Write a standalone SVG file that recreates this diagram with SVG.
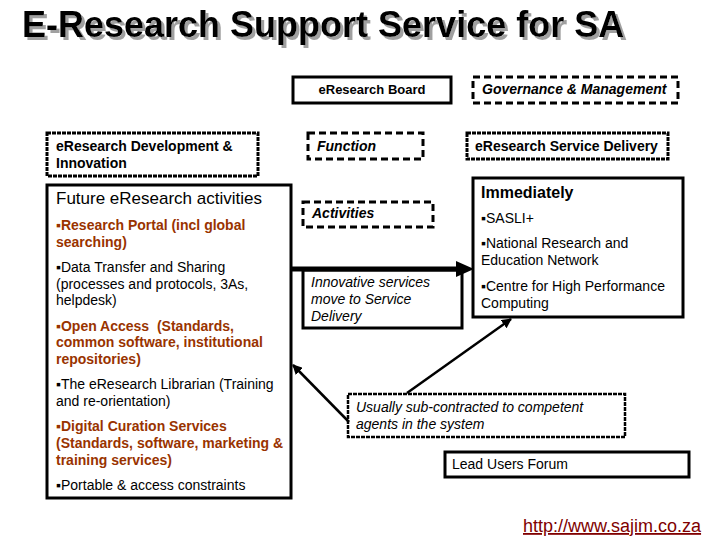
<svg xmlns="http://www.w3.org/2000/svg" width="720" height="540" viewBox="0 0 720 540">
<style>
text{font-family:"Liberation Sans",Arial,sans-serif;font-size:14px;fill:#000}
.box{fill:#fff;stroke:#000;stroke-width:3}
.dash{fill:#fff;stroke:#000;stroke-width:3;stroke-dasharray:7 4}
.dot{fill:#fff;stroke:#000;stroke-width:3;stroke-dasharray:4 1}
.b{font-weight:bold}
.i{font-style:italic}
.br{font-weight:bold;fill:#993300}
.con{stroke:#000;stroke-width:2.5;fill:none}
</style>
<defs>
<marker id="ah" viewBox="0 0 10 10" refX="9" refY="5" markerWidth="4" markerHeight="4" orient="auto" markerUnits="strokeWidth">
<path d="M0,0 L10,5 L0,10 z" fill="#000"/>
</marker>
<filter id="shadow" x="-5%" y="-20%" width="110%" height="150%">
<feFlood flood-color="#a0a0a0" result="c"/>
<feComposite in="c" in2="SourceAlpha" operator="in" result="s"/>
<feOffset in="s" dx="2.5" dy="2.5" result="o"/>
<feMerge><feMergeNode in="o"/><feMergeNode in="SourceGraphic"/></feMerge>
</filter>
</defs>
<rect width="720" height="540" fill="#fff"/>
<g id="title">
<text x="22" y="37" filter="url(#shadow)" style="font-size:36px;font-weight:bold">E-Research Support Service for SA</text>
</g>
<g id="board"><rect class="box" x="293" y="77" width="158" height="26"/><text class="b" x="372" y="94" text-anchor="middle" style="font-size:13px">eResearch Board</text></g>
<g id="governance"><rect class="dash" x="473" y="77" width="205" height="26"/><text class="b i" x="482" y="94">Governance &amp; Management</text></g>
<g id="function"><rect class="dash" x="308" y="133" width="115" height="26"/><text class="b i" x="317" y="151">Function</text></g>
<g id="delivery"><rect class="dot" x="467" y="133" width="201" height="26"/><text class="b" x="475" y="151">eResearch Service Delivery</text></g>
<g id="development"><rect class="dot" x="47" y="133" width="211" height="43"/><text class="b" x="56" y="151">eResearch Development &amp;</text><text class="b" x="56" y="168">Innovation</text></g>
<g id="future">
<rect class="box" x="47" y="185" width="244" height="313"/>
<text x="56" y="204" style="font-size:17px">Future eResearch activities</text>
<text class="br" x="56" y="230">▪Research Portal (incl global</text>
<text class="br" x="56" y="247">searching)</text>
<text x="56" y="272">▪Data Transfer and Sharing</text>
<text x="56" y="289">(processes and protocols, 3As,</text>
<text x="56" y="305">helpdesk)</text>
<text class="br" x="56" y="331" style="white-space:pre">▪Open Access  (Standards,</text>
<text class="br" x="56" y="347">common software, institutional</text>
<text class="br" x="56" y="364">repositories)</text>
<text x="56" y="389">▪The eResearch Librarian (Training</text>
<text x="56" y="406">and re-orientation)</text>
<text class="br" x="56" y="431">▪Digital Curation Services</text>
<text class="br" x="56" y="448">(Standards, software, marketing &amp;</text>
<text class="br" x="56" y="465">training services)</text>
<text x="56" y="490">▪Portable &amp; access constraints</text>
</g>
<g id="activities"><rect class="dash" x="303" y="202" width="130" height="25"/><text class="b i" x="312" y="218">Activities</text></g>
<g id="immediately">
<rect class="box" x="473" y="178" width="210" height="139"/>
<text class="b" x="481" y="198" style="font-size:16px">Immediately</text>
<text x="481" y="223">▪SASLI+</text>
<text x="481" y="248">▪National Research and</text>
<text x="481" y="265">Education Network</text>
<text x="481" y="291">▪Centre for High Performance</text>
<text x="481" y="308">Computing</text>
</g>
<g id="innovative"><rect class="box" x="303" y="270" width="159" height="58"/>
<text class="i" x="311" y="287">Innovative services</text>
<text class="i" x="311" y="304">move to Service</text>
<text class="i" x="311" y="321">Delivery</text></g>
<g id="subcontracted"><rect class="dot" x="348" y="394" width="277" height="43" style="stroke-width:2.5"/>
<text class="i" x="356" y="412">Usually sub-contracted to competent</text>
<text class="i" x="356" y="429">agents in the system</text></g>
<g id="leadusers"><rect class="box" x="445" y="452" width="244" height="25"/><text x="452" y="469">Lead Users Forum</text></g>
<g id="connectors">
<line x1="291" y1="269" x2="458" y2="269" stroke="#000" stroke-width="5"/>
<polygon points="456,261 474,269 456,277" fill="#000"/>
<line class="con" x1="349" y1="422" x2="293" y2="365" marker-end="url(#ah)"/>
<line class="con" x1="407" y1="393" x2="511" y2="319" marker-end="url(#ah)"/>
</g>
<g id="url"><text x="523" y="532" style="font-size:18px;fill:#800000;text-decoration:underline">http://www.sajim.co.za</text></g>
</svg>
